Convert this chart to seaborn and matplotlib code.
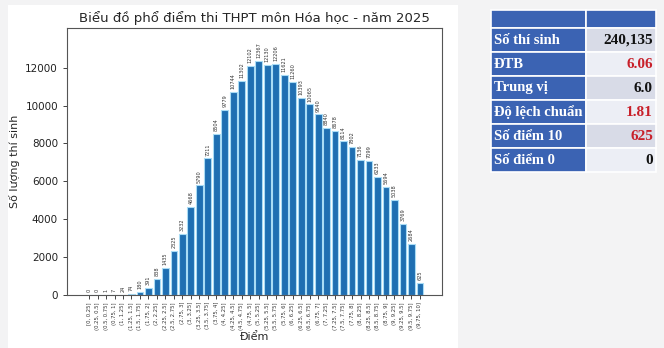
import matplotlib
matplotlib.use("Agg")
import matplotlib.pyplot as plt
import seaborn as sns
import pandas as pd
from matplotlib.patches import Rectangle

# ---------------- data ----------------
bins = ["[0, 0.25]", "(0.25, 0.5]", "(0.5, 0.75]", "(0.75, 1]", "(1, 1.25]", "(1.25, 1.5]",
        "(1.5, 1.75]", "(1.75, 2]", "(2, 2.25]", "(2.25, 2.5]", "(2.5, 2.75]", "(2.75, 3]",
        "(3, 3.25]", "(3.25, 3.5]", "(3.5, 3.75]", "(3.75, 4]", "(4, 4.25]", "(4.25, 4.5]",
        "(4.5, 4.75]", "(4.75, 5]", "(5, 5.25]", "(5.25, 5.5]", "(5.5, 5.75]", "(5.75, 6]",
        "(6, 6.25]", "(6.25, 6.5]", "(6.5, 6.75]", "(6.75, 7]", "(7, 7.25]", "(7.25, 7.5]",
        "(7.5, 7.75]", "(7.75, 8]", "(8, 8.25]", "(8.25, 8.5]", "(8.5, 8.75]", "(8.75, 9]",
        "(9, 9.25]", "(9.25, 9.5]", "(9.5, 9.75]", "(9.75, 10]"]
counts = [0, 0, 1, 7, 24, 74, 180, 391, 838, 1435, 2325, 3232, 4668, 5790, 7211,
          8504, 9779, 10744, 11302, 12102, 12367, 12130, 12206, 11621, 11260, 10393,
          10065, 9540, 8840, 8678, 8114, 7802, 7136, 7099, 6233, 5694, 5038, 3769, 2684, 625]

table_labels = ["Số thí sinh", "ĐTB", "Trung vị", "Độ lệch chuẩn", "Số điểm 10", "Số điểm 0"]
table_values = ["240,135", "6.06", "6.0", "1.81", "625", "0"]
table_value_colors = ["#111111", "#c8202a", "#111111", "#c8202a", "#c8202a", "#111111"]

df = pd.DataFrame({"bin": bins, "count": counts})

# ---------------- figure ----------------
sns.set_style("white")
plt.rcParams["font.family"] = ["DejaVu Sans"]
fig = plt.figure(figsize=(6.64, 3.48), dpi=100)
fig.patch.set_facecolor("#f3f3f4")
# white card behind chart
fig.patches.append(Rectangle((8 / 664, 0), 450 / 664, 343 / 348, transform=fig.transFigure,
                             facecolor="white", edgecolor="none", zorder=-5))

ax = fig.add_axes([67 / 664, 1 - 295 / 348, 375 / 664, 267 / 348])
ax.set_zorder(1)
ax.set_facecolor("white")
sns.barplot(data=df, x="bin", y="count", color="#1f6fb2", saturation=1, ax=ax,
            edgecolor="#a9dcf5", linewidth=0.8, width=0.8)
ax.set_xlim(-2.6, len(bins) - 1 + 2.6)
ax.set_ylim(0, max(counts) * 1.14)

for i, c in enumerate(counts):
    ax.text(i, c + max(counts) * 0.012, f"{c}", rotation=90, ha="center", va="bottom",
            fontsize=3.6, color="#333333")

ax.set_xticks(range(len(bins)))
ax.set_xticklabels(bins, rotation=90, fontsize=3.8, color="#333333")
ax.tick_params(axis="y", labelsize=7.5, colors="#222222", length=3, width=0.6, left=True)
ax.tick_params(axis="x", length=3, width=0.6, bottom=True, pad=2)
ax.set_yticks(range(0, 13000, 2000))
ax.set_xlabel("Điểm", fontsize=8, labelpad=2)
ax.set_ylabel("Số lượng thí sinh", fontsize=8)
ax.set_title("Biểu đồ phổ điểm thi THPT môn Hóa học - năm 2025", fontsize=9.5, pad=4)
for s in ax.spines.values():
    s.set_color("#555555")
    s.set_linewidth(0.8)

# ---------------- table ----------------
W, H = 664, 348
def rect(x0, y0, w, h, color):
    fig.patches.append(Rectangle((x0 / W, 1 - (y0 + h) / H), w / W, h / H,
                                 transform=fig.transFigure, facecolor=color,
                                 edgecolor="white", linewidth=1.2, zorder=2))

lx, lw = 491, 95
rx, rw = 586, 70
top, hh, rh = 10, 18, 24
rect(lx, top, lw, hh, "#3b63b3")
rect(rx, top, rw, hh, "#3b63b3")
for k, (lab, val, col) in enumerate(zip(table_labels, table_values, table_value_colors)):
    y0 = top + hh + k * rh
    rect(lx, y0, lw, rh, "#3b63b3")
    rect(rx, y0, rw, rh, "#d8dbe7" if k % 2 == 0 else "#eceef5")
    fig.text((lx + 3) / W, 1 - (y0 + rh / 2) / H, lab, ha="left", va="center",
             fontsize=10.5, color="white", fontweight="bold",
             family=["Liberation Serif", "DejaVu Serif"], zorder=3)
    fig.text((rx + rw - 3) / W, 1 - (y0 + rh / 2) / H, val, ha="right", va="center",
             fontsize=11, color=col, fontweight="bold",
             family=["Liberation Serif", "DejaVu Serif"], zorder=3)

fig.savefig("out.png", dpi=100, facecolor=fig.get_facecolor())
